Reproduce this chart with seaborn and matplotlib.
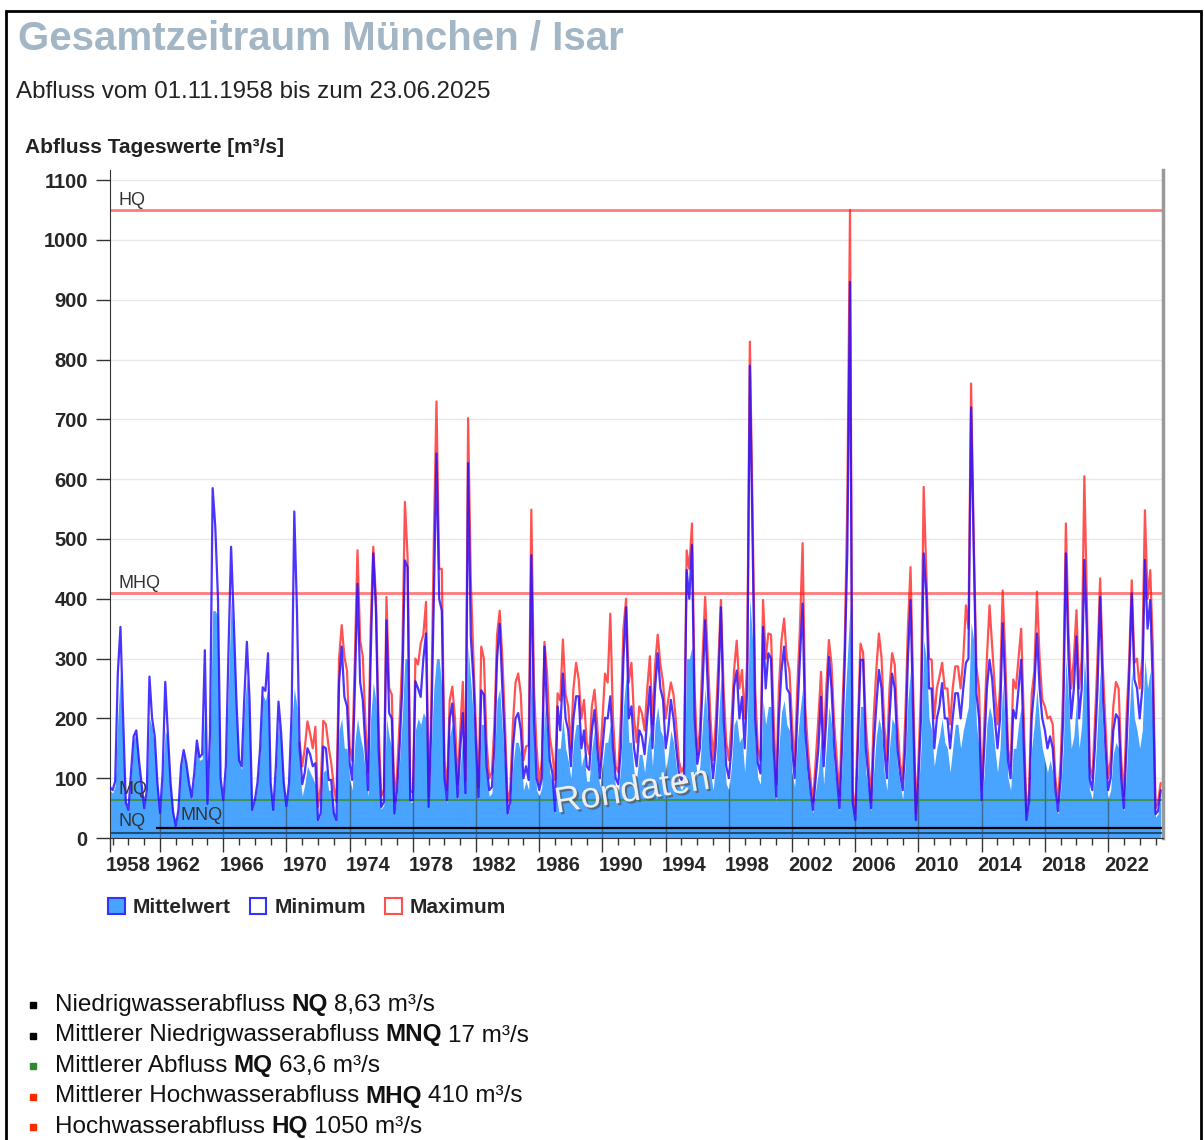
import numpy as np
import pandas as pd
import matplotlib
matplotlib.use("Agg")
import matplotlib.pyplot as plt
import matplotlib.patheffects as pe
from matplotlib.patches import Patch, Rectangle
from matplotlib.transforms import ScaledTranslation
import seaborn as sns

# values, two-monthly (Nov, Jan, Mar, May, Jul, Sep per hydrological year)
start = "1958-11-01"
mittel = [
    80, 75, 88, 200, 276, 150,     # 1959
    55, 45, 100, 165, 175, 120,    # 1960
    80, 48, 75, 200, 185, 150,     # 1961
    85, 40, 100, 180, 165, 85,     # 1962
    40, 18, 45, 115, 140, 118,     # 1963
    88, 64, 100, 155, 130, 132,    # 1964
    215, 55, 150, 380, 380, 370,   # 1965
    90, 60, 110, 250, 400, 330,    # 1966
    200, 125, 115, 210, 270, 200,  # 1967
    45, 60, 88, 140, 240, 230,     # 1968
    250, 85, 45, 110, 200, 160,    # 1969
    85, 50, 88, 190, 250, 220,     # 1970
    110, 70, 90, 120, 110, 100,    # 1971
    90, 28, 38, 110, 115, 80,      # 1972
    80, 38, 28, 180, 200, 150,     # 1973
    150, 100, 80, 160, 200, 170,   # 1974
    150, 110, 70, 200, 260, 230,   # 1975
    100, 48, 55, 200, 170, 150,    # 1976
    38, 70, 130, 200, 300, 300,    # 1977
    60, 60, 180, 200, 190, 210,    # 1978
    200, 50, 150, 250, 300, 300,   # 1979
    250, 80, 58, 170, 190, 130,    # 1980
    60, 120, 170, 70, 320, 260,    # 1981
    200, 120, 60, 190, 190, 100,   # 1982
    70, 75, 130, 230, 250, 180,    # 1983
    110, 38, 55, 120, 160, 160,    # 1984
    140, 80, 95, 80, 300, 150,     # 1985
    80, 70, 85, 220, 170, 110,     # 1986
    90, 40, 150, 150, 200, 150,    # 1987
    130, 100, 160, 190, 190, 120,  # 1988
    140, 95, 95, 150, 180, 120,    # 1989
    85, 120, 160, 160, 190, 120,   # 1990
    85, 75, 120, 220, 270, 160,    # 1991
    160, 110, 100, 140, 140, 110,  # 1992
    150, 180, 120, 190, 220, 180,  # 1993
    170, 110, 140, 180, 160, 120,  # 1994
    90, 80, 90, 300, 300, 320,     # 1995
    150, 100, 120, 190, 250, 190,  # 1996
    110, 80, 120, 190, 270, 150,   # 1997
    90, 80, 120, 190, 200, 160,    # 1998
    170, 110, 180, 400, 330, 160,  # 1999
    100, 90, 230, 190, 220, 220,   # 2000
    110, 60, 150, 210, 230, 190,   # 2001
    180, 110, 85, 160, 210, 250,   # 2002
    140, 95, 65, 42, 80, 110,      # 2003
    170, 90, 150, 220, 190, 120,   # 2004
    80, 45, 120, 220, 300, 390,    # 2005
    50, 28, 110, 220, 220, 110,    # 2006
    80, 45, 110, 170, 200, 180,    # 2007
    110, 80, 150, 200, 190, 120,   # 2008
    90, 65, 120, 230, 280, 150,    # 2009
    28, 80, 150, 330, 300, 200,    # 2010
    180, 120, 150, 170, 200, 160,  # 2011
    150, 110, 150, 190, 190, 150,  # 2012
    180, 200, 220, 360, 330, 190,  # 2013
    150, 55, 110, 190, 220, 200,   # 2014
    150, 110, 150, 260, 190, 100,  # 2015
    80, 150, 150, 190, 220, 120,   # 2016
    28, 55, 150, 190, 250, 190,    # 2017
    150, 130, 110, 130, 110, 60,   # 2018
    40, 80, 150, 300, 230, 150,    # 2019
    170, 230, 150, 190, 300, 240,  # 2020
    80, 65, 110, 190, 280, 180,    # 2021
    110, 65, 80, 140, 160, 150,    # 2022
    80, 45, 110, 200, 280, 200,    # 2023
    180, 150, 180, 300, 250, 280,  # 2024
    180, 35, 40, 70,               # 2025
]
minimum = [
    85, 80, 95, 276, 353, 200,
    60, 47, 110, 170, 180, 130,
    90, 50, 80, 270, 200, 170,
    92, 42, 108, 261, 175, 92,
    42, 20, 47, 120, 147, 125,
    92, 68, 108, 163, 135, 140,
    314, 57, 175, 585, 520, 400,
    100, 63, 120, 309, 487, 365,
    231, 130, 120, 231, 328, 231,
    47, 63, 92, 150, 252, 246,
    309, 92, 47, 120, 228, 175,
    92, 53, 92, 210, 546, 380,
    150, 90, 110, 150, 140, 120,
    125, 30, 41, 153, 150, 97,
    97, 41, 30, 260, 320, 236,
    220, 125, 97, 250, 425, 260,
    230, 150, 80, 300, 476, 380,
    150, 52, 60, 364, 209, 200,
    41, 80, 153, 250, 464, 453,
    63, 63, 262, 250, 236, 300,
    342, 52, 180, 400, 643, 400,
    380, 100, 63, 200, 225, 150,
    68, 150, 209, 75, 627, 337,
    264, 150, 68, 247, 240, 120,
    80, 85, 150, 300, 358, 250,
    153, 41, 60, 150, 200, 209,
    180, 100, 120, 97, 473, 197,
    100, 80, 100, 320, 209, 130,
    108, 45, 220, 180, 275, 200,
    180, 120, 200, 237, 237, 150,
    180, 120, 114, 180, 214, 150,
    100, 150, 201, 200, 237, 150,
    100, 90, 150, 300, 386, 200,
    220, 150, 120, 180, 170, 140,
    200, 253, 150, 250, 309, 250,
    231, 150, 180, 231, 200, 150,
    110, 97, 108, 448, 400, 490,
    200, 124, 150, 250, 364, 250,
    150, 100, 150, 250, 386, 200,
    120, 100, 150, 253, 280, 200,
    236, 150, 250, 790, 508, 200,
    125, 108, 353, 250, 309, 300,
    150, 69, 200, 280, 320, 250,
    242, 150, 100, 200, 300, 392,
    180, 120, 80, 47, 100, 150,
    236, 120, 200, 303, 250, 152,
    100, 50, 150, 290, 480, 930,
    60, 30, 150, 298, 298, 150,
    100, 50, 150, 220, 281, 250,
    150, 100, 200, 275, 250, 150,
    108, 80, 150, 300, 398, 200,
    30, 100, 200, 476, 409, 250,
    250, 150, 200, 220, 259, 200,
    200, 150, 200, 242, 242, 200,
    250, 293, 300, 720, 481, 242,
    200, 63, 150, 250, 298, 265,
    200, 150, 200, 359, 250, 130,
    100, 214, 200, 250, 298, 150,
    30, 60, 200, 250, 342, 250,
    200, 180, 150, 170, 150, 80,
    45, 100, 200, 476, 300, 200,
    250, 337, 200, 250, 465, 337,
    100, 80, 150, 250, 403, 240,
    150, 80, 100, 180, 207, 200,
    100, 50, 150, 265, 409, 265,
    250, 200, 250, 465, 350, 398,
    250, 40, 45, 80,
]
# the maximum series only exists from late 1970 on
max_start = "1970-11-01"
maximum = [
    160, 120, 150, 195, 175, 150,  # 1971
    186, 52, 85, 196, 190, 153,
    125, 85, 60, 300, 356, 303,
    280, 153, 130, 300, 481, 330,
    303, 190, 110, 350, 487, 400,
    190, 70, 80, 403, 250, 240,
    60, 110, 196, 300, 562, 470,
    80, 75, 300, 290, 325, 340,
    395, 70, 213, 500, 730, 450,
    450, 130, 80, 230, 253, 200,
    90, 180, 261, 95, 702, 431,
    300, 180, 85, 320, 300, 160,
    100, 110, 190, 340, 380, 300,
    190, 60, 80, 190, 260, 275,
    240, 130, 153, 155, 549, 250,
    150, 90, 130, 328, 275, 170,
    140, 97, 242, 230, 332, 240,
    220, 150, 250, 293, 265, 200,
    231, 160, 140, 220, 248, 190,
    120, 200, 275, 260, 375, 200,
    120, 110, 200, 350, 400, 260,
    293, 200, 160, 220, 209, 180,
    250, 304, 190, 290, 340, 290,
    260, 200, 231, 260, 240, 190,
    130, 110, 120, 481, 450, 526,
    250, 140, 180, 300, 403, 300,
    200, 130, 190, 290, 398, 250,
    160, 130, 190, 281, 330, 250,
    281, 200, 300, 830, 553, 250,
    150, 130, 398, 300, 342, 340,
    200, 90, 250, 330, 367, 300,
    280, 190, 120, 250, 350, 493,
    220, 150, 100, 60, 130, 200,
    278, 150, 250, 331, 290, 190,
    130, 70, 200, 320, 560, 1050,
    80, 40, 190, 325, 310, 190,
    130, 60, 200, 280, 342, 300,
    190, 130, 250, 309, 290, 190,
    125, 100, 200, 350, 453, 250,
    40, 130, 250, 587, 442, 300,
    298, 200, 250, 270, 293, 250,
    250, 190, 250, 287, 287, 250,
    300, 389, 350, 760, 500, 287,
    250, 80, 190, 300, 389, 318,
    250, 190, 250, 414, 300, 150,
    120, 265, 250, 300, 350, 200,
    40, 80, 240, 278, 412, 300,
    231, 220, 200, 203, 190, 100,
    60, 130, 250, 526, 342, 250,
    300, 381, 250, 300, 605, 381,
    120, 100, 190, 300, 434, 287,
    190, 100, 130, 220, 261, 250,
    130, 70, 200, 293, 431, 293,
    300, 250, 300, 548, 400, 448,
    318, 50, 60, 92,               # 2025
]
end = "2025-06-23"

NQ, MNQ, MQ, MHQ, HQ = 8.63, 17, 63.6, 410, 1050
bullets = [
    ("Niedrigwasserabfluss", "NQ", "8,63 m³/s", "black"),
    ("Mittlerer Niedrigwasserabfluss", "MNQ", "17 m³/s", "black"),
    ("Mittlerer Abfluss", "MQ", "63,6 m³/s", "#2e8b2e"),
    ("Mittlerer Hochwasserabfluss", "MHQ", "410 m³/s", "#ff2a00"),
    ("Hochwasserabfluss", "HQ", "1050 m³/s", "#ff2a00"),
]
major_years = list(range(1962, 2023, 4))

FILL = "#48a4ff"
BLUE = "#2a10ff"
RED = "#ff1a1a"

sns.set_style("white")
plt.rcParams["font.family"] = ["Liberation Sans", "DejaVu Sans"]

df = pd.DataFrame({"Datum": pd.date_range(start, periods=len(mittel), freq="2MS"),
                   "Mittelwert": mittel, "Minimum": minimum})
dfmax = pd.DataFrame({"Datum": pd.date_range(max_start, periods=len(maximum), freq="2MS"),
                      "Maximum": maximum})

W, H = 1204, 1140
fig = plt.figure(figsize=(W / 100, H / 100), dpi=100)
ax = fig.add_axes([110 / W, 1 - 838 / H, 1053 / W, 668 / H])

poly = ax.fill_between(df["Datum"], 0, df["Mittelwert"], color=FILL, lw=0, zorder=1)
sns.lineplot(data=dfmax, x="Datum", y="Maximum", ax=ax, color=RED, lw=1.6, alpha=0.75,
             estimator=None, zorder=3)
sns.lineplot(data=df, x="Datum", y="Minimum", ax=ax, color=BLUE, lw=1.6, alpha=0.85,
             estimator=None, zorder=4)

# dark year lines only visible inside the filled area
vl = ax.vlines([pd.Timestamp(f"{y}-01-01") for y in major_years], 0, 1100,
               color="#333333", lw=1, alpha=0.55, zorder=1.5)
vl.set_clip_path(poly.get_paths()[0], ax.transData)

# reference lines
ax.axhline(HQ, color="#ff7b7b", lw=2, zorder=2.5)
ax.axhline(MHQ, color="#ff7b7b", lw=2, zorder=2.5)
ax.axhline(MQ, color="#3a8f3a", lw=1.5, alpha=0.85, zorder=2.5)
ax.hlines(MNQ, pd.Timestamp("1961-10-01"), pd.Timestamp(end), color="black", lw=1.6, zorder=2.5)
ax.axhline(NQ, color="#1f4e79", lw=1.5, zorder=2.5)

for lab, val, dx, dy in [("HQ", HQ, 8, 1), ("MHQ", MHQ, 8, 1), ("MQ", MQ, 8, 2),
                         ("NQ", NQ, 8, 3), ("MNQ", MNQ, 70, 4)]:
    ax.annotate(lab, xy=(0, val), xycoords=("axes fraction", "data"), xytext=(dx, dy),
                textcoords="offset pixels", fontsize=13, color="#333333", va="bottom", zorder=5)

ax.text(0.496, 0.07, "Rondaten", transform=ax.transAxes, rotation=9, fontsize=26,
        color="#eeeeee", ha="center", va="center", zorder=6,
        path_effects=[pe.withSimplePatchShadow(offset=(1.5, -1.5), shadow_rgbFace="#555555", alpha=0.7)])

ax.set_xlim(pd.Timestamp(start), pd.Timestamp(end))
ax.set_ylim(0, 1117)
ax.set_yticks(range(0, 1101, 100))
ax.set_xticks([pd.Timestamp(start)] + [pd.Timestamp(f"{y}-01-01") for y in major_years])
ax.set_xticklabels(["1958"] + [str(y) for y in major_years])
ax.set_xticks([pd.Timestamp(f"{y}-01-01") for y in range(1959, 2026) if y not in major_years],
              minor=True)
ax.set_xlabel("")
ax.set_ylabel("")

ax.tick_params(axis="x", which="major", length=10, width=1, color="#333333", pad=3,
               labelsize=14.5, bottom=True)
ax.tick_params(axis="x", which="minor", length=5, width=1, color="#333333", bottom=True)
ax.tick_params(axis="y", length=10, width=1, color="#333333", pad=6, labelsize=14.5, left=True)
shift = ScaledTranslation(-4 / 100, 0, fig.dpi_scale_trans)
for lbl in ax.get_xticklabels():
    lbl.set_fontweight("bold")
    lbl.set_ha("left")
    lbl.set_transform(lbl.get_transform() + shift)
for lbl in ax.get_yticklabels():
    lbl.set_fontweight("bold")

ax.yaxis.grid(True, color="#e8e8e8", lw=1)
ax.xaxis.grid(False)
ax.set_axisbelow(True)
ax.spines["top"].set_visible(False)
ax.spines["right"].set_color("#999999")
ax.spines["right"].set_linewidth(2.5)
ax.spines["left"].set_color("#333333")
ax.spines["bottom"].set_color("#333333")

# texts
fig.text(18 / W, 1 - 38 / H, "Gesamtzeitraum München / Isar", fontsize=29, fontweight="bold",
         color="#a2b6c6", va="center")
fig.text(16 / W, 1 - 92 / H, "Abfluss vom 01.11.1958 bis zum 23.06.2025", fontsize=17.4,
         color="#222222", va="center")
fig.text(25 / W, 1 - 147 / H, "Abfluss Tageswerte [m³/s]", fontsize=15, fontweight="bold",
         color="#222222", va="center")

handles = [Patch(facecolor=FILL, edgecolor="#3333ff", lw=1.5, label="Mittelwert"),
           Patch(facecolor="white", edgecolor="#3333ff", lw=1.5, label="Minimum"),
           Patch(facecolor="white", edgecolor="#ff5050", lw=1.5, label="Maximum")]
fig.legend(handles=handles, loc="upper left", bbox_to_anchor=(108 / W, 1 - 898 / H), ncol=3,
           frameon=False, prop=dict(weight="bold", size=15), handlelength=0.8, handleheight=0.8,
           handletextpad=0.4, columnspacing=0.9, borderpad=0, borderaxespad=0)

for i, (a, b, c, col) in enumerate(bullets):
    y = 1 - (1005 + 30.5 * i) / H
    fig.patches.append(Rectangle((30 / W, y - 3 / H), 6 / W, 6 / H, transform=fig.transFigure,
                                 color=col))
    t1 = fig.text(55 / W, y, a, fontsize=17.5, color="#111111", va="center")
    t2 = ax.annotate(b, xy=(1, 0), xycoords=t1, xytext=(4.5, 0), textcoords="offset points",
                     fontsize=17.5, fontweight="bold", color="#111111", va="bottom")
    ax.annotate(c, xy=(1, 0), xycoords=t2, xytext=(4.5, 0), textcoords="offset points",
                fontsize=17.5, color="#111111", va="bottom")

# outer frame
fig.patches.append(Rectangle((6 / W, -0.05), 1195 / W, 1.05 - 11 / H, transform=fig.transFigure,
                             fill=False, edgecolor="black", lw=2))

fig.savefig("out.png", dpi=100)
